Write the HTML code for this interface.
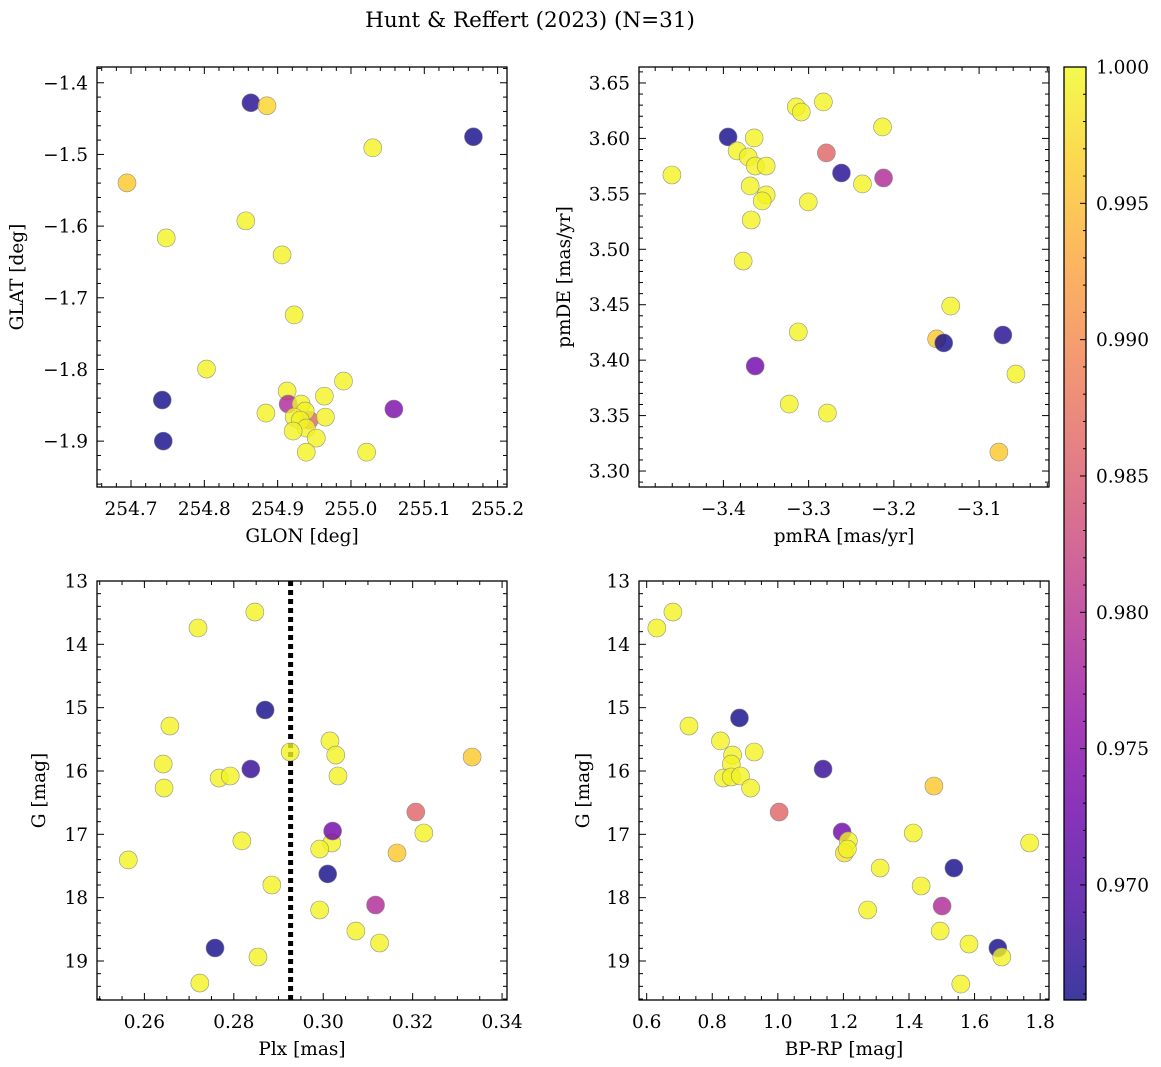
<!DOCTYPE html>
<html><head><meta charset="utf-8">
<style>
html,body{margin:0;padding:0;background:#fff;}
svg{display:block;font-family:"DejaVu Serif","Liberation Serif",serif;}
</style></head>
<body>
<svg id="fig" width="1161" height="1067" viewBox="0 0 1161 1067" xmlns="http://www.w3.org/2000/svg">
<rect width="1161" height="1067" fill="#fff"/>
<text x="530" y="27" font-size="21.5" text-anchor="middle">Hunt &amp; Reffert (2023) (N=31)</text>
</svg>
<script>
// ---- data ----
const glon = [254.8635,254.8854,255.167,255.0297,254.6945,254.748,254.8566,254.906,254.9225,254.803,254.7426,254.744,254.9431,254.884,254.9129,254.9143,254.9321,254.9376,254.9225,254.9308,254.939,254.9211,254.9527,254.939,254.9637,254.9651,254.9898,255.0214,255.0585];
const glat = [-1.4279,-1.4321,-1.4754,-1.4908,-1.5397,-1.6165,-1.5927,-1.6402,-1.724,-1.7994,-1.8427,-1.9,-1.8707,-1.8609,-1.8302,-1.8483,-1.8483,-1.8581,-1.8665,-1.8707,-1.8818,-1.886,-1.8958,-1.9154,-1.8372,-1.8665,-1.8162,-1.9154,-1.8553];
const prob1 = [0.967,0.997,0.966,0.9995,0.996,0.9995,0.9995,0.9995,0.9995,0.9995,0.966,0.966,0.986,0.9995,0.9995,0.979,0.9995,0.9995,0.9995,0.9995,0.9995,0.9995,0.9995,0.9995,0.9995,0.9995,0.9995,0.9995,0.974];

const pmra = [-3.4604,-3.3945,-3.3639,-3.3839,-3.3709,-3.3627,-3.3498,-3.3686,-3.3498,-3.3545,-3.3674,-3.3768,-3.3145,-3.3086,-3.2827,-3.2133,-3.2792,-3.2615,-3.2368,-3.2121,-3.3004,-3.1333,-3.1498,-3.1415,-3.0721,-3.0568,-3.0768,-3.3121,-3.3627,-3.3227,-3.2780];
const pmde = [3.5670,3.6013,3.6004,3.5887,3.5833,3.5751,3.5751,3.5571,3.5490,3.5436,3.5264,3.4894,3.6284,3.6238,3.6329,3.6103,3.5869,3.5688,3.5589,3.5643,3.5427,3.4488,3.4191,3.4155,3.4227,3.3875,3.3171,3.4254,3.3947,3.3604,3.3523];
const prob2 = [0.9995,0.966,0.9995,0.9995,0.9995,0.9995,0.9995,0.9995,0.9995,0.9995,0.9995,0.9995,0.9995,0.9995,0.9995,0.9995,0.986,0.967,0.9995,0.979,0.9995,0.9995,0.996,0.966,0.967,0.9995,0.996,0.9995,0.973,0.9995,0.9995];

const plx = [0.2564,0.2720,0.2847,0.2642,0.2657,0.2644,0.2767,0.2792,0.2818,0.2870,0.2838,0.2926,0.2885,0.2758,0.2724,0.2854,0.3015,0.3028,0.3033,0.3019,0.2992,0.3021,0.3207,0.3225,0.3165,0.3333,0.3010,0.3117,0.2992,0.3073,0.3126];
const gmag3 = [17.405,13.742,13.490,15.890,15.290,16.269,16.111,16.079,17.105,15.037,15.969,15.700,17.800,18.795,19.348,18.937,15.526,15.748,16.079,17.137,17.232,16.948,16.648,16.979,17.295,15.779,17.626,18.116,18.195,18.527,18.716];
const prob3 = [0.9995,0.9995,0.9995,0.9995,0.9995,0.9995,0.9995,0.9995,0.9995,0.966,0.968,0.9995,0.9995,0.966,0.9995,0.9995,0.9995,0.9995,0.9995,0.9995,0.9995,0.973,0.986,0.9995,0.996,0.996,0.966,0.979,0.9995,0.9995,0.9995];
const plxRef = [0.2927];

const bprp = [0.631,0.680,0.729,0.883,0.825,0.862,0.858,0.928,0.834,0.858,0.886,0.917,1.004,1.138,1.476,1.196,1.215,1.203,1.212,1.413,1.768,1.312,1.537,1.437,1.501,1.274,1.495,1.583,1.671,1.683,1.558];
const gmag4 = [13.742,13.490,15.290,15.163,15.526,15.748,15.890,15.700,16.111,16.095,16.079,16.269,16.648,15.969,16.237,16.963,17.105,17.295,17.232,16.979,17.137,17.532,17.532,17.816,18.132,18.195,18.527,18.732,18.795,18.937,19.364];
const prob4 = [0.9995,0.9995,0.9995,0.966,0.9995,0.9995,0.9995,0.9995,0.9995,0.9995,0.9995,0.9995,0.986,0.968,0.996,0.973,0.9995,0.998,0.9995,0.9995,0.9995,0.9995,0.966,0.9995,0.979,0.9995,0.9995,0.9995,0.966,0.9995,0.9995];

const cbTicks = [0.970,0.975,0.980,0.985,0.990,0.995,1.000];

// ---- helpers ----
const NS = "http://www.w3.org/2000/svg";
const svg = document.getElementById("fig");
function mk(tag, attrs, parent){ const e=document.createElementNS(NS,tag); for(const k in attrs) e.setAttribute(k,attrs[k]); (parent||svg).appendChild(e); return e; }
const VMIN=0.96578, VMAX=1.0;
const plasma=[[13,8,135],[65,4,157],[106,0,168],[143,13,164],[177,42,144],[204,71,120],[225,100,98],[242,132,75],[252,166,54],[252,206,37],[240,249,33]];
function cmap(v){ let t=(v-VMIN)/(VMAX-VMIN); t=Math.max(0,Math.min(1,t)); const f=t*10, i=Math.min(9,Math.floor(f)), r=f-i; const a=plasma[i], b=plasma[i+1]; return `rgb(${a.map((c,k)=>Math.round(c+(b[k]-c)*r)).join(",")})`; }
function fmt(v,d){ const s=Math.abs(v).toFixed(d); return (v<-1e-9?"\u2212":"")+s; }
const FS=18.5;

function panel(cfg){
  const g = mk("g",{});
  
  
  const {x0,x1,y0,y1,xmin,xmax,ymin,ymax,invertY} = cfg;
  const sx = v => x0 + (v-xmin)/(xmax-xmin)*(x1-x0);
  const sy = v => invertY ? y0 + (v-ymin)/(ymax-ymin)*(y1-y0) : y1 - (v-ymin)/(ymax-ymin)*(y1-y0);
  if(cfg.vline){ cfg.vline.forEach(v=>{ const l=mk("line",{x1:sx(v),x2:sx(v),y1:y0,y2:y1,stroke:"#000","stroke-width":5,"stroke-dasharray":"5,4"},g);
    
     }); }
  cfg.xs.forEach((xv,i)=>{ const c=mk("circle",{cx:sx(xv),cy:sy(cfg.ys[i]),r:9,fill:cmap(cfg.cs[i]),"fill-opacity":0.8,stroke:"#888","stroke-width":0.6,"stroke-opacity":0.9},g);
    
     });
  const fr=mk("rect",{x:x0,y:y0,width:x1-x0,height:y1-y0,fill:"none",stroke:"#000","stroke-width":1.3},g);
  
  
  const xs0=Math.ceil(xmin/cfg.xminor-1e-6);
  for(let k=xs0; k*cfg.xminor<=xmax+1e-9; k++){
    const v=k*cfg.xminor, px=sx(v);
    const isMaj=Math.abs(Math.round(v/cfg.xstep)*cfg.xstep - v) < cfg.xminor*0.01;
    const L=isMaj?7:4;
    mk("line",{x1:px,x2:px,y1:y1,y2:y1-L,stroke:"#000","stroke-width":1},g);
    mk("line",{x1:px,x2:px,y1:y0,y2:y0+L,stroke:"#000","stroke-width":1},g);
    if(isMaj){ const t=mk("text",{x:px,y:y1+28,"font-size":FS,"text-anchor":"middle"},g); t.textContent=fmt(v,cfg.xdec);
      
       }
  }
  const ys0=Math.ceil(ymin/cfg.yminor-1e-6);
  for(let k=ys0; k*cfg.yminor<=ymax+1e-9; k++){
    const v=k*cfg.yminor, py=sy(v);
    const isMaj=Math.abs(Math.round(v/cfg.ystep)*cfg.ystep - v) < cfg.yminor*0.01;
    const L=isMaj?7:4;
    mk("line",{x1:x0,x2:x0+L,y1:py,y2:py,stroke:"#000","stroke-width":1},g);
    mk("line",{x1:x1,x2:x1-L,y1:py,y2:py,stroke:"#000","stroke-width":1},g);
    if(isMaj){ const t=mk("text",{x:x0-9,y:py+6.5,"font-size":FS,"text-anchor":"end"},g); t.textContent=fmt(v,cfg.ydec);
      
       }
  }
  const xl=mk("text",{x:(x0+x1)/2,y:y1+55,"font-size":FS,"text-anchor":"middle"},g); xl.textContent=cfg.xlabel;
  
  
  const yl=mk("text",{x:cfg.ylx,y:(y0+y1)/2,"font-size":FS,"text-anchor":"middle",transform:`rotate(-90 ${cfg.ylx} ${(y0+y1)/2})`},g); yl.textContent=cfg.ylabel;
  
  
}

panel({name:"glon-glat-panel",x0:97,x1:507,y0:67,y1:487,xmin:254.6536,xmax:255.2128,ymin:-1.964,ymax:-1.378,
  xs:glon,ys:glat,cs:prob1,xstep:0.1,xminor:0.02,xdec:1,ystep:0.1,yminor:0.02,ydec:1,xlabel:"GLON [deg]",ylabel:"GLAT [deg]",ylx:23});
panel({name:"pm-panel",x0:639,x1:1049,y0:67,y1:487,xmin:-3.499,xmax:-3.018,ymin:3.2856,ymax:3.6644,
  xs:pmra,ys:pmde,cs:prob2,xstep:0.1,xminor:0.02,xdec:1,ystep:0.05,yminor:0.01,ydec:2,xlabel:"pmRA [mas/yr]",ylabel:"pmDE [mas/yr]",ylx:570});
panel({name:"plx-g-panel",x0:97,x1:507,y0:581,y1:1000,xmin:0.2494,xmax:0.3411,ymin:13,ymax:19.616,invertY:true,
  xs:plx,ys:gmag3,cs:prob3,vline:plxRef,xstep:0.02,xminor:0.005,xdec:2,ystep:1,yminor:0.2,ydec:0,xlabel:"Plx [mas]",ylabel:"G [mag]",ylx:45});
panel({name:"cmd-panel",x0:639,x1:1049,y0:581,y1:1000,xmin:0.5766,xmax:1.827,ymin:13,ymax:19.616,invertY:true,
  xs:bprp,ys:gmag4,cs:prob4,xstep:0.2,xminor:0.05,xdec:1,ystep:1,yminor:0.2,ydec:0,xlabel:"BP-RP [mag]",ylabel:"G [mag]",ylx:589});

(function(){
  const cx0=1064,cx1=1086,cy0=67,cy1=1000;
  const g=mk("g",{});
  
  
  const defs=mk("defs",{},g);
  const lg=mk("linearGradient",{id:"cbg",x1:0,y1:1,x2:0,y2:0},defs);
  plasma.forEach((c,i)=>mk("stop",{offset:(i/10),"stop-color":`rgb(${c.join(",")})`,"stop-opacity":0.8},lg));
  const r=mk("rect",{x:cx0,y:cy0,width:cx1-cx0,height:cy1-cy0,fill:"url(#cbg)",stroke:"#000","stroke-width":1.3},g);
  
  
  const sy=v=>cy1-(v-VMIN)/(VMAX-VMIN)*(cy1-cy0);
  for(let k=Math.ceil(VMIN/0.001-1e-6); k*0.001<=VMAX+1e-9; k++){
    const v=k*0.001, py=sy(v), isMaj=(k%5===0);
    mk("line",{x1:cx1,x2:cx1-(isMaj?6:3),y1:py,y2:py,stroke:"#000","stroke-width":1},g);
  }
  cbTicks.forEach(v=>{ const t=mk("text",{x:cx1+10,y:sy(v)+6.5,"font-size":FS},g); t.textContent=v.toFixed(3);
    
     });
})();
</script>
</body></html>
